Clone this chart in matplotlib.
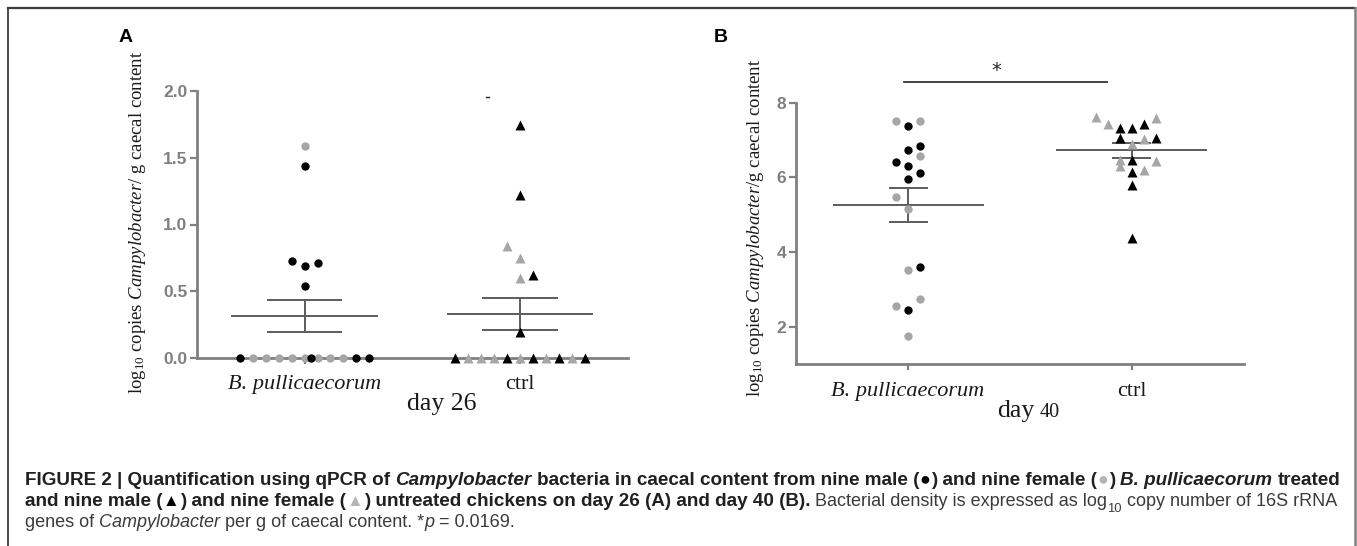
import numpy as np
import matplotlib
matplotlib.use("Agg")
import matplotlib.pyplot as plt
from matplotlib.lines import Line2D

# ---------------- data ----------------
groups = ["B. pullicaecorum", "ctrl"]

# day 26 (panel A): log10 copies / g caecal content
d26_pull_male = [1.44, 0.73, 0.69, 0.71, 0.54, 0.0, 0.0, 0.0, 0.0]
d26_pull_female = [1.59, 0.0, 0.0, 0.0, 0.0, 0.0, 0.0, 0.0, 0.0]
d26_ctrl_male = [1.74, 1.22, 0.62, 0.20, 0.0, 0.0, 0.0, 0.0, 0.0]
d26_ctrl_female = [0.84, 0.75, 0.60, 0.0, 0.0, 0.0, 0.0, 0.0, 0.0]

# day 40 (panel B)
d40_pull_male = [7.37, 6.84, 6.73, 6.42, 6.31, 6.11, 5.95, 3.61, 2.46]
d40_pull_female = [7.52, 7.52, 6.57, 5.47, 5.15, 3.53, 2.76, 2.57, 1.77]
d40_ctrl_male = [7.33, 7.33, 7.42, 7.05, 7.06, 6.47, 6.15, 5.81, 4.39]
d40_ctrl_female = [7.63, 7.42, 7.58, 6.89, 7.03, 6.48, 6.44, 6.30, 6.20]

yticks_d26 = [0.0, 0.5, 1.0, 1.5, 2.0]
yticks_d40 = [2, 4, 6, 8]
p_value = 0.0169

# ---------------- horizontal scatter offsets (layout) ----------------
off26_pull_male = [0, -0.06, 0, 0.06, 0, -0.30, 0.03, 0.24, 0.30]
off26_pull_female = [0, -0.24, -0.18, -0.12, -0.06, 0, 0.06, 0.12, 0.18]
off26_ctrl_male = [0, 0, 0.06, 0, -0.30, -0.06, 0.06, 0.18, 0.30]
off26_ctrl_female = [-0.06, 0, 0, -0.24, -0.18, -0.12, 0, 0.12, 0.24]

s = 0.053
off40_pull_male = [0, s, 0, -s, 0, s, 0, s, 0]
off40_pull_female = [-s, s, s, -s, 0, 0, s, -s, 0]
off40_ctrl_male = [-s, 0, s, -s, 2 * s, 0, 0, 0, 0]
off40_ctrl_female = [-3 * s, -2 * s, 2 * s, 0, s, -s, 2 * s, -s, s]

# ---------------- figure ----------------
plt.rcParams["mathtext.fontset"] = "custom"
plt.rcParams["mathtext.rm"] = "Liberation Serif"
plt.rcParams["mathtext.it"] = "Liberation Serif:italic"
plt.rcParams["mathtext.bf"] = "Liberation Serif:bold"

W, H = 1357, 546
fig = plt.figure(figsize=(W / 100, H / 100), dpi=100)
fig.patch.set_facecolor("white")


def px_axes(l, t, r, b):
    return fig.add_axes([l / W, 1 - b / H, (r - l) / W, (b - t) / H])


AXC = "#808080"
GRAY = "#a6a6a6"
BLACK = "#000000"
LINEC = "#5c5c5c"


def style_axes(ax, ylim, yticks, fmt, xpad):
    for sp in ("top", "right"):
        ax.spines[sp].set_visible(False)
    for sp in ("left", "bottom"):
        ax.spines[sp].set_color(AXC)
        ax.spines[sp].set_linewidth(2.0)
    ax.set_xlim(-0.5, 1.5)
    ax.set_ylim(*ylim)
    ax.set_yticks(yticks)
    ax.set_yticklabels([fmt.format(v) for v in yticks])
    ax.tick_params(axis="y", direction="out", length=5, width=1.6, color=AXC,
                   labelcolor=AXC, pad=2)
    for t in ax.get_yticklabels():
        t.set_fontfamily("Liberation Sans")
        t.set_fontweight("bold")
        t.set_fontsize(12.5)
    ax.set_xticks([0, 1])
    ax.set_xticklabels(groups)
    ax.tick_params(axis="x", direction="out", length=4, width=1.6, color=AXC,
                   labelcolor="#1a1a1a", pad=xpad)
    labs = ax.get_xticklabels()
    for t in labs:
        t.set_fontfamily("Liberation Serif")
        t.set_fontsize(16)
    labs[0].set_fontstyle("italic")


def draw_group(ax, xc, female, fo, male, mo, marker, ms):
    ax.plot(xc + np.array(fo), female, linestyle="none", marker=marker, ms=ms,
            color=GRAY, mec="none", clip_on=False, zorder=4)
    ax.plot(xc + np.array(mo), male, linestyle="none", marker=marker, ms=ms,
            color=BLACK, mec="none", clip_on=False, zorder=5)


def mean_sem(ax, xc, values, half, cap):
    v = np.asarray(values, dtype=float)
    m = v.mean()
    e = v.std(ddof=1) / np.sqrt(len(v))
    ax.plot([xc - half, xc + half], [m, m], color=LINEC, lw=1.4, zorder=3, clip_on=False)
    ax.plot([xc - cap, xc + cap], [m + e, m + e], color=LINEC, lw=1.4, zorder=3)
    ax.plot([xc - cap, xc + cap], [m - e, m - e], color=LINEC, lw=1.4, zorder=3)
    ax.plot([xc, xc], [m - e, m + e], color=LINEC, lw=1.4, zorder=3)


# ---------------- panel A ----------------
axA = px_axes(197, 90.7, 627.6, 358.3)
style_axes(axA, (0, 2.0), yticks_d26, "{:.1f}", 8.0)
draw_group(axA, 0, d26_pull_female, off26_pull_female, d26_pull_male, off26_pull_male, "o", 6.0)
draw_group(axA, 1, d26_ctrl_female, off26_ctrl_female, d26_ctrl_male, off26_ctrl_male, "^", 6.5)
mean_sem(axA, 0, d26_pull_male + d26_pull_female, 0.336, 0.17)
mean_sem(axA, 1, d26_ctrl_male + d26_ctrl_female, 0.336, 0.17)
axA.plot([0.843, 0.858], [1.955, 1.955], color="#222222", lw=1.0)

# ---------------- panel B ----------------
axB = px_axes(796.2, 102.7, 1243.8, 364.3)
style_axes(axB, (1.0, 8.0), yticks_d40, "{:d}", 8.5)
draw_group(axB, 0, d40_pull_female, off40_pull_female, d40_pull_male, off40_pull_male, "o", 6.0)
draw_group(axB, 1, d40_ctrl_female, off40_ctrl_female, d40_ctrl_male, off40_ctrl_male, "^", 6.5)
mean_sem(axB, 0, d40_pull_male + d40_pull_female, 0.333, 0.083)
mean_sem(axB, 1, d40_ctrl_male + d40_ctrl_female, 0.333, 0.083)
axB.plot([-0.02, 0.89], [8.55, 8.55], color="#333333", lw=1.3, clip_on=False)
axB.text(0.395, 8.86, "*", ha="center", va="center", fontsize=14, color="#222222",
         fontfamily="DejaVu Sans")

# ---------------- labels ----------------
def ftext(x, y, s, **kw):
    return fig.text(x / W, 1 - y / H, s, **kw)


ftext(126, 38, "A", ha="center", va="center", fontsize=14, fontweight="bold",
      fontfamily="Liberation Sans")
ftext(721, 38, "B", ha="center", va="center", fontsize=14, fontweight="bold",
      fontfamily="Liberation Sans")

ftext(138, 222, r"log$_{10}$ copies $\mathit{Campylobacter}$/ g caecal content",
      rotation=90, ha="center", va="center", fontsize=13.5,
      fontfamily="Liberation Serif", color="#1a1a1a")
ftext(756, 228, r"log$_{10}$ copies $\mathit{Campylobacter}$/g caecal content",
      rotation=90, ha="center", va="center", fontsize=13.5,
      fontfamily="Liberation Serif", color="#1a1a1a")

ftext(442, 404, "day 26", ha="center", va="center", fontsize=18.5,
      fontfamily="Liberation Serif", color="#1a1a1a")
ftext(1034, 417, "day", ha="right", va="baseline", fontsize=18.5,
      fontfamily="Liberation Serif", color="#1a1a1a")
ftext(1040, 417, "40", ha="left", va="baseline", fontsize=14.5,
      fontfamily="Liberation Serif", color="#1a1a1a")

# ---------------- figure frame ----------------
fig.add_artist(Line2D([8 / W, 8 / W], [0, 1 - 8 / H], transform=fig.transFigure,
                      color="#3c3c3c", lw=1.3))
fig.add_artist(Line2D([8 / W, 1355 / W], [1 - 8 / H, 1 - 8 / H], transform=fig.transFigure,
                      color="#3c3c3c", lw=1.6))
fig.add_artist(Line2D([1355 / W, 1355 / W], [0, 1 - 8 / H], transform=fig.transFigure,
                      color="#808080", lw=1.8))

# ---------------- caption ----------------
renderer = fig.canvas.get_renderer()
CAPC = "#231f20"
REGC = "#3b3b3b"
SYMG = "#b5b5b5"
FAM = ["Liberation Sans", "DejaVu Sans"]

B_ = dict(fontweight="bold", color=CAPC)
BI = dict(fontweight="bold", fontstyle="italic", color=CAPC)
R_ = dict(color=REGC, _scale=0.96)
RI = dict(fontstyle="italic", color=REGC, _scale=0.96)
SUB = dict(color=REGC, _scale=0.96 * 0.72, _sub=True)

line1 = [("FIGURE 2 | Quantification using qPCR of ", B_), ("Campylobacter", BI),
         (" bacteria in caecal content from nine male (", B_),
         ("\u25CF", dict(color=BLACK, _scale=0.95, _sym=True)), (") and nine female (", B_),
         ("\u25CF", dict(color=SYMG, _scale=0.95, _sym=True)), (") ", B_),
         ("B. pullicaecorum", BI), (" treated", B_)]
line2 = [("and nine male (", B_), ("\u25B2", dict(color=BLACK, _scale=0.9, _sym=True)),
         (") and nine female (", B_), ("\u25B2", dict(color=SYMG, _scale=0.9, _sym=True)),
         (") untreated chickens on day 26 (A) and day 40 (B).", B_),
         (" Bacterial density is expressed as log", R_), ("10", SUB),
         (" copy number of 16S rRNA", R_)]
line3 = [("genes of ", R_), ("Campylobacter", RI), (" per g of caecal content. *", R_),
         ("p", RI), (" = 0.0169.", R_)]


def measure(txt, size, kw):
    t = fig.text(0, 0, txt, fontsize=size, fontfamily=FAM, **kw)
    w = t.get_window_extent(renderer).width
    t.remove()
    return w


def layout(runs, x0, ybase, size, draw=True):
    x = x0
    for txt, kw in runs:
        kw = dict(kw)
        sub = kw.pop("_sub", False)
        sym = kw.pop("_sym", False)
        fs = size * kw.pop("_scale", 1.0)
        core = txt.strip(" ")
        lead = len(txt) - len(txt.lstrip(" "))
        trail = len(txt) - len(txt.rstrip(" "))
        plain = {k: v for k, v in kw.items() if k != "color"}
        sp = measure("a a", fs, plain) - measure("aa", fs, plain)
        x += lead * sp
        if core:
            yb = ybase + (0.28 * size * 100 / 72 if sub else 0) - (0.3 if sym else 0)
            if sym:
                x += 0.5
            t = fig.text(x / W, 1 - yb / H, core, fontsize=fs, fontfamily=FAM,
                         ha="left", va="baseline", **kw)
            w = t.get_window_extent(renderer).width
            if not draw:
                t.remove()
            x += w + (0.5 if sym else 0)
        x += trail * sp
    return x - x0


size0 = 10.0
w0 = layout(line1, 25, 485, size0, draw=False)
size = size0 * (1337 - 25) / w0
layout(line1, 25, 485, size)
layout(line2, 25, 506.5, size)
layout(line3, 25, 527, size)

fig.savefig("out.png", dpi=100, facecolor="white")
